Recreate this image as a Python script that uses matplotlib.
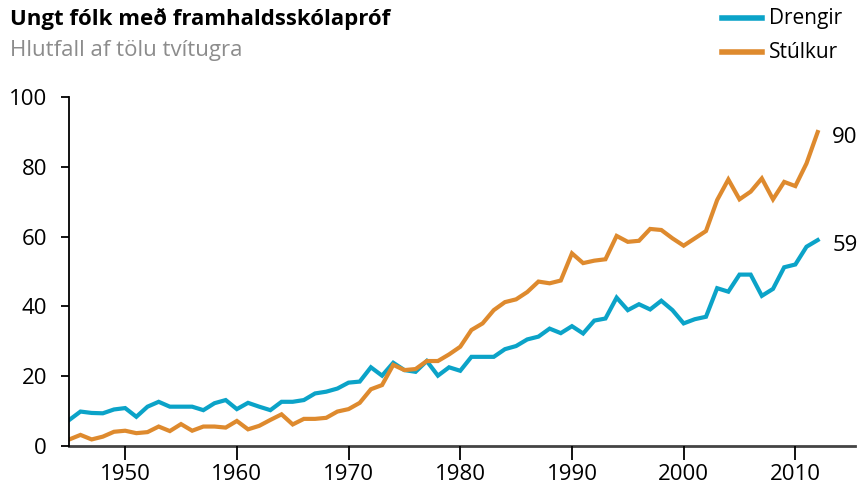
import matplotlib.pyplot as plt
from matplotlib import font_manager
import numpy as np

# family with a narrow look if installed
names = {f.name for f in font_manager.fontManager.ttflist}
fam = 'Liberation Sans Narrow' if 'Liberation Sans Narrow' in names else 'Open Sans'
plt.rcParams['font.family'] = [fam, 'DejaVu Sans']

years = np.arange(1945, 2013)

drengir = [7.4, 9.8, 9.4, 9.3, 10.4, 10.8, 8.3, 11.2, 12.6, 11.2,
           11.2, 11.2, 10.2, 12.2, 13.1, 10.5, 12.3, 11.2, 10.2, 12.6,
           12.6, 13.1, 15.0, 15.5, 16.4, 18.1, 18.4, 22.5, 20.1, 23.8,
           21.7, 21.2, 24.3, 20.1, 22.5, 21.5, 25.5, 25.5, 25.5, 27.7,
           28.6, 30.5, 31.3, 33.6, 32.3, 34.3, 32.2, 35.9, 36.5, 42.5,
           38.9, 40.6, 39.1, 41.6, 38.9, 35.1, 36.3, 37.0, 45.2, 44.2,
           49.1, 49.1, 43.0, 45.0, 51.2, 52.0, 57.1, 59.0]

stulkur = [1.8, 3.1, 1.8, 2.6, 4.0, 4.3, 3.6, 3.9, 5.5, 4.2,
           6.2, 4.3, 5.5, 5.5, 5.2, 7.1, 4.7, 5.7, 7.4, 9.0,
           6.1, 7.7, 7.7, 8.0, 9.8, 10.5, 12.3, 16.2, 17.4, 23.2,
           21.7, 22.0, 24.3, 24.3, 26.2, 28.4, 33.2, 35.1, 38.9, 41.2,
           42.0, 44.1, 47.1, 46.6, 47.4, 55.2, 52.4, 53.1, 53.5, 60.2,
           58.5, 58.8, 62.2, 61.9, 59.5, 57.4, 59.5, 61.6, 70.5, 76.4,
           70.7, 72.9, 76.7, 70.7, 75.7, 74.5, 81.0, 90.0]

blue = '#0ba3c8'
orange = '#de8a2e'

fig = plt.figure(figsize=(8.61, 4.97), dpi=100)
ax = fig.add_axes([0.0805, 0.1032, 0.912, 0.7012])

ax.plot(years, drengir, color=blue, lw=3, solid_joinstyle='miter')
ax.plot(years, stulkur, color=orange, lw=3, solid_joinstyle='miter')

ax.set_xlim(1945, 2015.3)
ax.set_ylim(0, 100)
ax.set_xticks(range(1950, 2011, 10))
ax.set_yticks(range(0, 101, 20))
ax.tick_params(axis='x', length=10, width=1.3, pad=3, labelsize=16, color='black')
ax.tick_params(axis='y', length=6, width=1.3, pad=10, labelsize=16, color='black')

for s in ['top', 'right']:
    ax.spines[s].set_visible(False)
ax.spines['left'].set_linewidth(1.3)
ax.spines['bottom'].set_linewidth(2)
ax.spines['bottom'].set_color('#444444')
ax.spines['bottom'].set_zorder(0)

# end labels, sitting a touch below the line ends
ax.text(2013.3, stulkur[-1] - 1.5, f'{stulkur[-1]:.0f}', fontsize=16, va='center', ha='left')
ax.text(2013.3, drengir[-1] - 1.5, f'{drengir[-1]:.0f}', fontsize=16, va='center', ha='left')

fig.text(0.012, 0.962, 'Ungt fólk með framhaldsskólapróf', fontsize=16,
         fontweight='bold', va='center', ha='left')
fig.text(0.012, 0.898, 'Hlutfall af tölu tvítugra', fontsize=16,
         color='#8c8c8c', va='center', ha='left')

# legend drawn by hand in figure coords
for yy, col, lab in [(0.963, blue, 'Drengir'), (0.895, orange, 'Stúlkur')]:
    fig.add_artist(plt.Line2D([0.838, 0.885], [yy, yy], color=col, lw=4,
                              transform=fig.transFigure))
    fig.text(0.893, yy, lab, fontsize=15, va='center', ha='left')

fig.savefig('out.png', dpi=100)
